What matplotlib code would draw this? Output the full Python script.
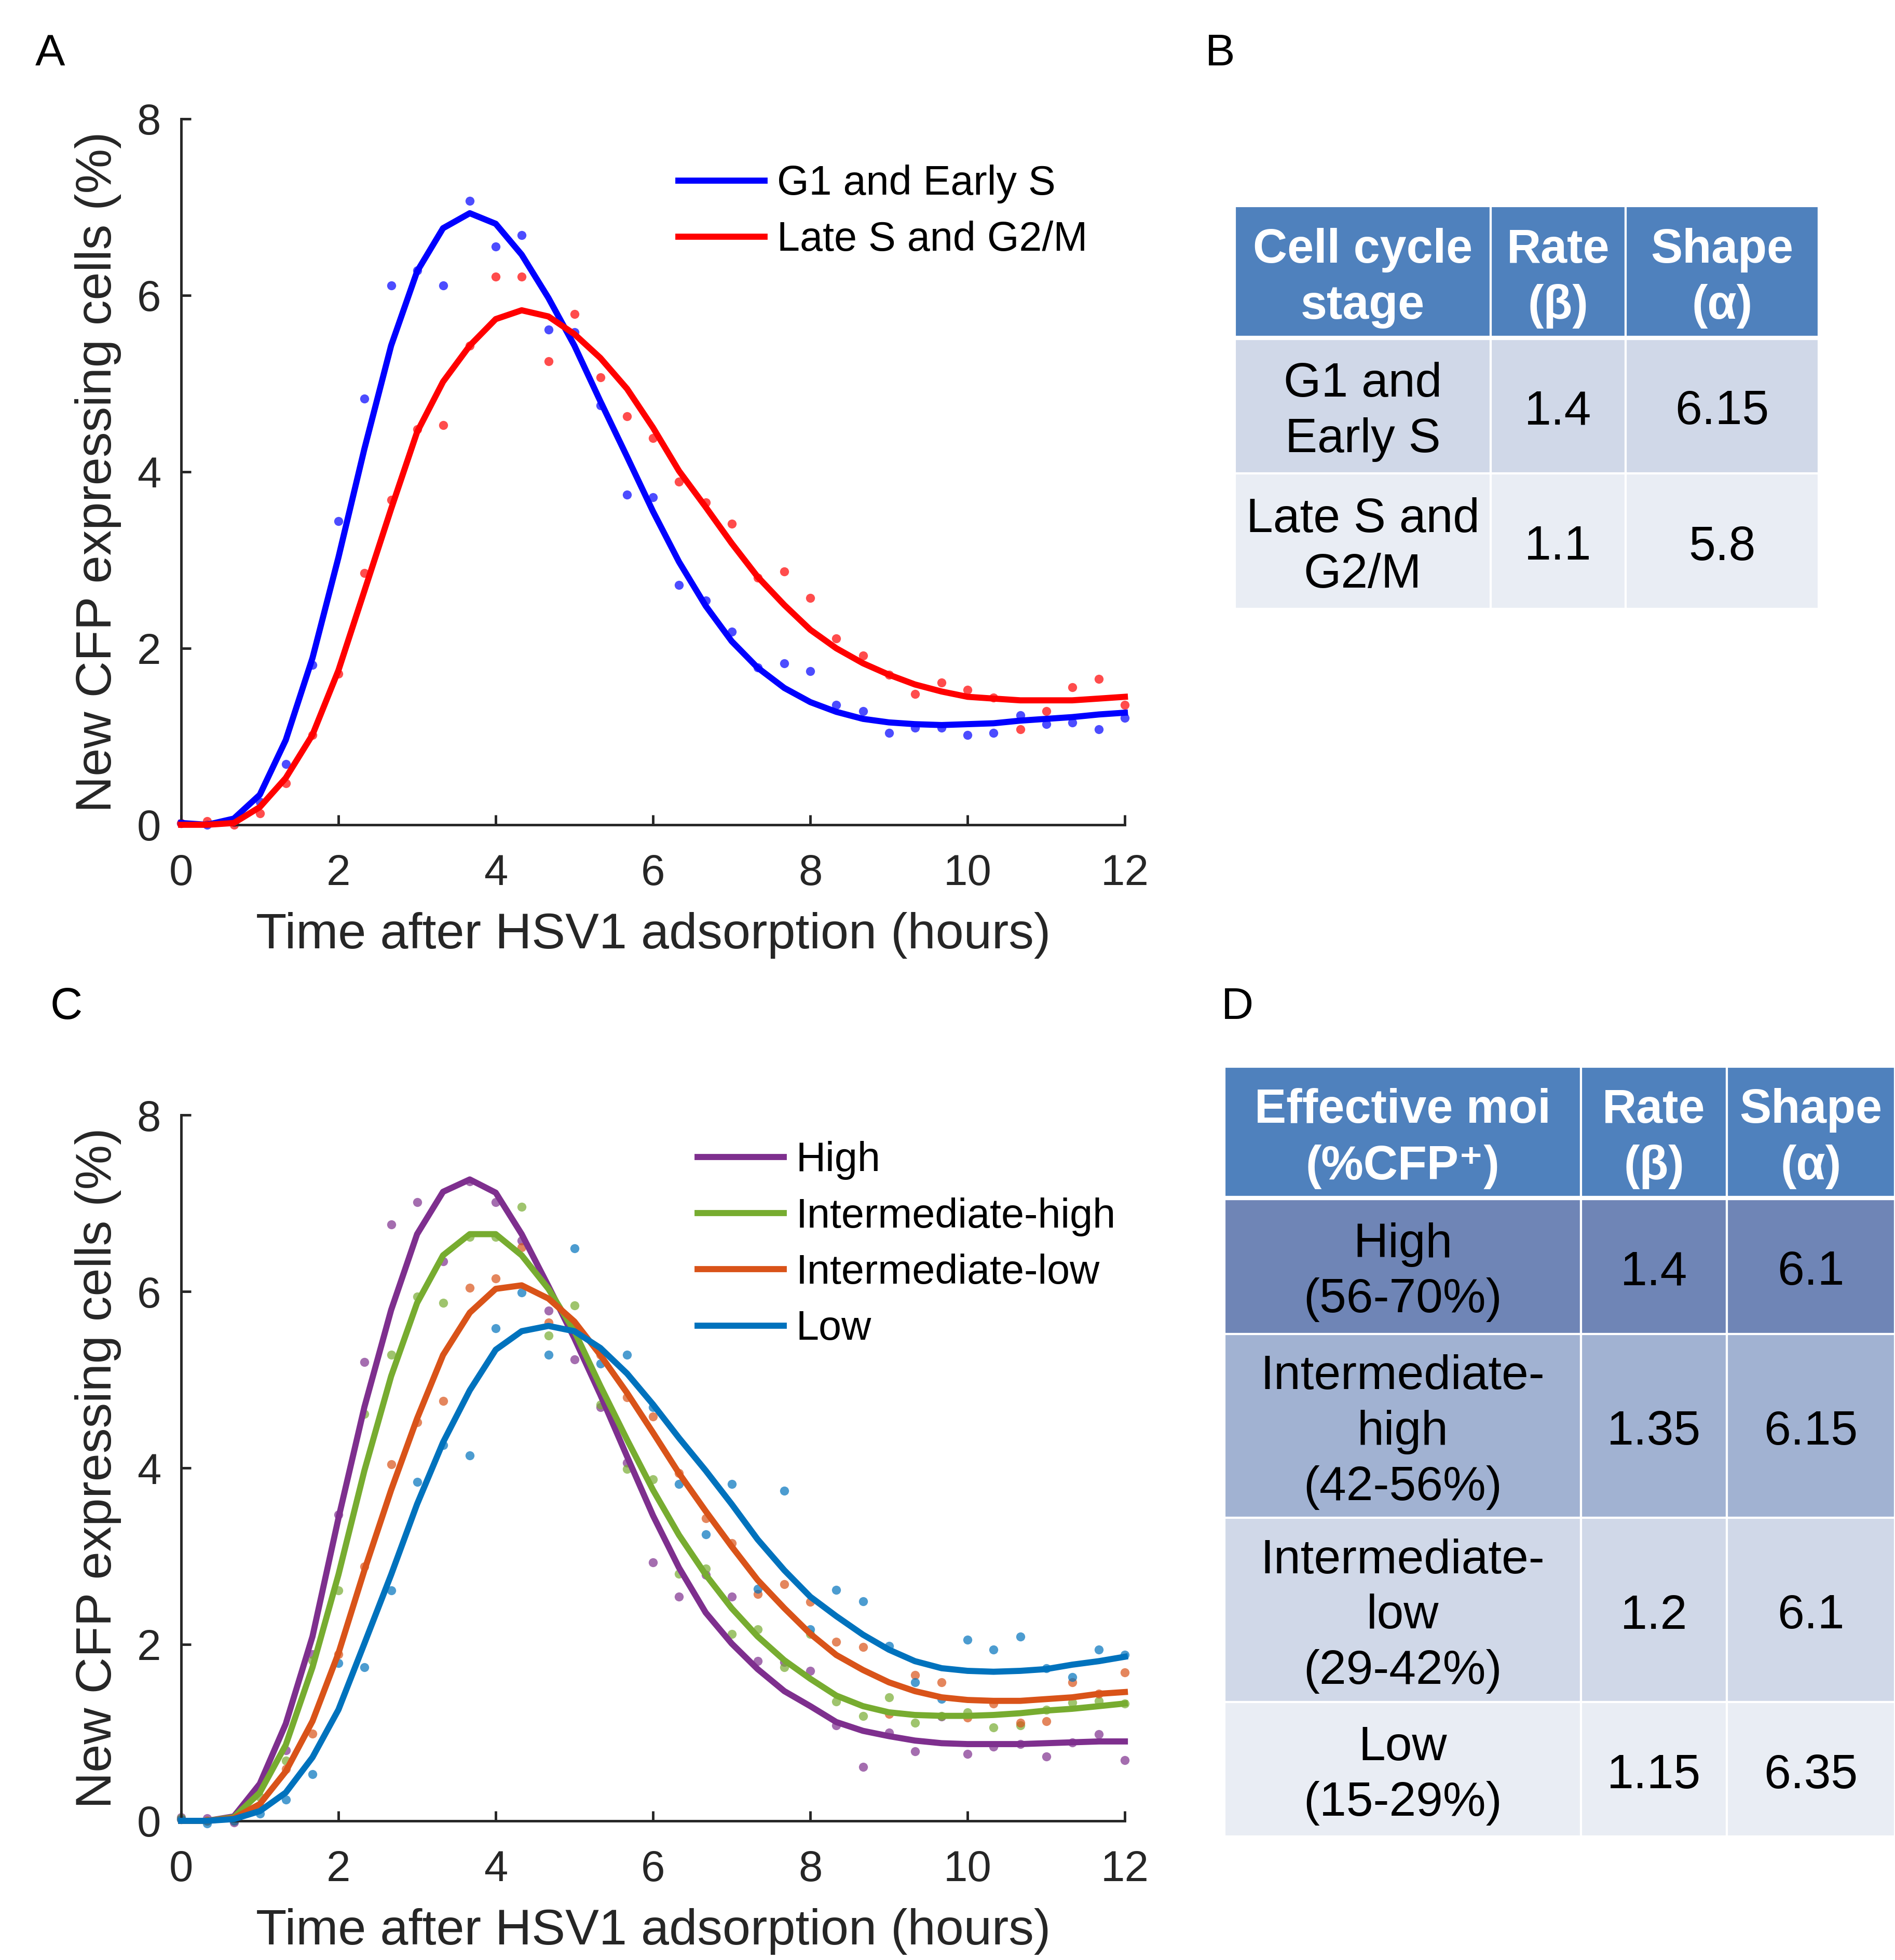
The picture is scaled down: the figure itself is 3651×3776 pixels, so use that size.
"""
Cinetica de expressao de CFP apos adsorcao do HSV1
Paineis A/C: curvas ajustadas + pontos medidos; B/D: parametros da distribuicao gama
"""
import matplotlib
matplotlib.use("Agg")
import matplotlib.pyplot as plt
from matplotlib.patches import Rectangle

# ---------------- dados ----------------
horas = [0, 0.33, 0.67, 1, 1.33, 1.67, 2, 2.33, 2.67, 3, 3.33, 3.67, 4,
         4.33, 4.67, 5, 5.33, 5.67, 6, 6.33, 6.67, 7, 7.33, 7.67, 8,
         8.33, 8.67, 9, 9.33, 9.67, 10, 10.33, 10.67, 11, 11.33, 11.67, 12]

# painel A - pontos medidos
g1_pts = [0.02, 0.0, 0.03, 0.26, 0.69, 1.81, 3.44, 4.83, 6.11, 6.28, 6.11, 7.07, 6.55,
          6.68, 5.61, 5.58, 4.75, 3.74, 3.71, 2.72, 2.54, 2.19, 1.78, 1.83, 1.74,
          1.36, 1.29, 1.04, 1.10, 1.10, 1.02, 1.04, 1.24, 1.14, 1.16, 1.08, 1.21]
late_pts = [0.02, 0.04, 0.0, 0.13, 0.47, 1.02, 1.71, 2.85, 3.68, 4.48, 4.53, 5.43, 6.21,
            6.21, 5.25, 5.79, 5.07, 4.63, 4.38, 3.89, 3.65, 3.41, 2.80, 2.87, 2.57,
            2.11, 1.92, 1.70, 1.48, 1.61, 1.53, 1.44, 1.08, 1.29, 1.56, 1.65, 1.36]
# painel A - curvas ajustadas
g1_fit = [0.02, 0.0, 0.07, 0.34, 0.96, 1.89, 3.03, 4.26, 5.43, 6.27, 6.76, 6.93, 6.81,
          6.46, 5.97, 5.43, 4.80, 4.17, 3.55, 2.98, 2.48, 2.08, 1.78, 1.55, 1.39,
          1.28, 1.20, 1.16, 1.14, 1.13, 1.14, 1.15, 1.18, 1.20, 1.22, 1.25, 1.27]
late_fit = [0.0, 0.0, 0.02, 0.20, 0.53, 1.02, 1.75, 2.65, 3.58, 4.45, 5.02, 5.43, 5.73,
            5.83, 5.76, 5.56, 5.29, 4.94, 4.50, 4.01, 3.60, 3.19, 2.81, 2.49, 2.21,
            2.00, 1.83, 1.70, 1.59, 1.51, 1.45, 1.43, 1.41, 1.41, 1.41, 1.43, 1.45]

# painel C - pontos medidos
high_pts = [0.04, 0.03, -0.02, 0.39, 0.80, 1.89, 3.47, 5.20, 6.76, 7.01, 6.34, 7.25, 7.01,
            6.58, 5.78, 5.23, 4.69, 4.06, 2.93, 2.54, 2.79, 2.54, 1.81, 1.80, 1.70,
            1.08, 0.61, 1.00, 0.79, 1.18, 0.76, 0.84, 0.87, 0.73, 0.89, 0.98, 0.69]
ihigh_pts = [0.03, 0.0, 0.02, 0.27, 0.68, 1.82, 2.61, 4.61, 5.28, 5.94, 5.87, 6.62, 6.62,
             6.96, 5.50, 5.84, 4.72, 3.99, 3.87, 2.80, 2.86, 2.12, 2.17, 1.74, 2.12,
             1.35, 1.19, 1.40, 1.11, 1.19, 1.23, 1.06, 1.08, 1.26, 1.34, 1.36, 1.33]
ilow_pts = [0.02, 0.0, 0.0, 0.16, 0.59, 0.99, 1.89, 2.88, 4.04, 4.52, 4.76, 6.04, 6.15,
            6.50, 5.65, 5.58, 5.28, 4.80, 4.58, 3.94, 3.43, 3.15, 2.57, 2.68, 2.48,
            2.03, 1.97, 1.21, 1.65, 1.57, 1.17, 1.33, 1.11, 1.13, 1.57, 1.44, 1.68]
low_pts = [0.02, -0.03, 0.0, 0.08, 0.24, 0.53, 1.79, 1.74, 2.61, 3.84, 4.26, 4.14, 5.58,
           5.99, 5.28, 6.49, 5.18, 5.28, 4.69, 3.82, 3.25, 3.82, 2.63, 3.74, 2.17,
           2.62, 2.49, 1.98, 1.57, 1.38, 2.05, 1.94, 2.09, 1.73, 1.63, 1.94, 1.88]
# painel C - curvas ajustadas
high_fit = [0.0, 0.0, 0.05, 0.42, 1.10, 2.09, 3.43, 4.69, 5.79, 6.65, 7.13, 7.27, 7.12,
            6.65, 6.06, 5.47, 4.83, 4.13, 3.46, 2.87, 2.36, 2.01, 1.72, 1.47, 1.30,
            1.12, 1.02, 0.96, 0.91, 0.88, 0.87, 0.87, 0.87, 0.88, 0.89, 0.90, 0.90]
ihigh_fit = [0.0, 0.0, 0.04, 0.32, 0.86, 1.74, 2.79, 3.97, 5.04, 5.87, 6.41, 6.65, 6.65,
             6.41, 6.03, 5.55, 4.93, 4.32, 3.75, 3.24, 2.79, 2.41, 2.09, 1.82, 1.61,
             1.42, 1.30, 1.23, 1.20, 1.19, 1.19, 1.20, 1.22, 1.25, 1.27, 1.30, 1.33]
ilow_fit = [0.0, 0.0, 0.03, 0.19, 0.56, 1.13, 1.90, 2.84, 3.75, 4.56, 5.28, 5.76, 6.03,
            6.07, 5.92, 5.66, 5.28, 4.85, 4.40, 3.94, 3.51, 3.11, 2.73, 2.41, 2.12,
            1.88, 1.71, 1.57, 1.47, 1.40, 1.37, 1.36, 1.36, 1.38, 1.40, 1.44, 1.46]
low_fit = [0.0, 0.0, 0.02, 0.11, 0.32, 0.72, 1.26, 2.01, 2.79, 3.59, 4.29, 4.88, 5.34,
           5.55, 5.61, 5.55, 5.36, 5.07, 4.72, 4.34, 3.97, 3.59, 3.19, 2.84, 2.54,
           2.32, 2.11, 1.94, 1.81, 1.73, 1.70, 1.69, 1.70, 1.72, 1.77, 1.81, 1.86]

nomes_a = ["G1 and Early S", "Late S and G2/M"]
nomes_c = ["High", "Intermediate-high", "Intermediate-low", "Low"]

# tabelas B e D
tab_b_header = ["Cell cycle\nstage", "Rate\n(\u03b2)", "Shape\n(\u03b1)"]
tab_b_rows = [["G1 and\nEarly S", "1.4", "6.15"],
              ["Late S and\nG2/M", "1.1", "5.8"]]
tab_d_header = ["Effective moi\n(%CFP\u207a)", "Rate\n(\u03b2)", "Shape\n(\u03b1)"]
tab_d_rows = [["High\n(56-70%)", "1.4", "6.1"],
              ["Intermediate-\nhigh\n(42-56%)", "1.35", "6.15"],
              ["Intermediate-\nlow\n(29-42%)", "1.2", "6.1"],
              ["Low\n(15-29%)", "1.15", "6.35"]]

# ---------------- estilo ----------------
W, H = 3651, 3776
fonte = ["Liberation Sans", "DejaVu Sans"]
plt.rcParams["font.family"] = fonte
cinza = "#262626"

fig = plt.figure(figsize=(W / 100, H / 100), dpi=100)


def painel(ret, series, legendas, leg_x, leg_y):
    ax = fig.add_axes(ret)
    for pts, fit, cor in series:
        ax.plot(horas, pts, "o", color=cor, alpha=0.7, ms=12.5, mec="none",
                clip_on=False, zorder=2)
        ax.plot(horas, fit, "-", color=cor, lw=8.5, clip_on=False, zorder=3)
    ax.set_xlim(0, 12)
    ax.set_ylim(0, 8)
    ax.set_xticks([0, 2, 4, 6, 8, 10, 12])
    ax.set_yticks([0, 2, 4, 6, 8])
    for s in ["top", "right"]:
        ax.spines[s].set_visible(False)
    for s in ["left", "bottom"]:
        ax.spines[s].set_linewidth(3.5)
        ax.spines[s].set_color(cinza)
    ax.tick_params(direction="in", length=14, width=3.5, colors=cinza, labelsize=60)
    ax.tick_params(axis="x", pad=40)
    ax.tick_params(axis="y", pad=28)
    ax.set_xlabel("Time after HSV1 adsorption (hours)", fontsize=70, color=cinza, va="center")
    ax.set_ylabel("New CFP expressing cells (%)", fontsize=70, color=cinza, va="center")
    ax.xaxis.set_label_coords(0.5, -0.157)
    ax.yaxis.set_label_coords(-0.088, 0.5)
    linhas = [l for l in ax.get_lines() if l.get_linestyle() == "-"]
    ax.legend(linhas, legendas, loc="upper left", bbox_to_anchor=(leg_x, leg_y),
              frameon=False, fontsize=57, handlelength=2.1, handletextpad=0.3,
              labelspacing=0.42, borderpad=0, borderaxespad=0)
    return ax


painel([0.0956, 0.5792, 0.498, 0.3602],
       [(g1_pts, g1_fit, "#0000FF"), (late_pts, late_fit, "#FF0000")],
       nomes_a, 0.527, 0.935)
painel([0.0956, 0.0710, 0.498, 0.3601],
       [(high_pts, high_fit, "#7E2F8E"), (ihigh_pts, ihigh_fit, "#77AC30"),
        (ilow_pts, ilow_fit, "#D95319"), (low_pts, low_fit, "#0072BD")],
       nomes_c, 0.547, 0.963)

# letras dos paineis
for letra, x, y in [("A", 0.0264, 0.9725), ("B", 0.6437, 0.9725),
                    ("C", 0.035, 0.486), ("D", 0.653, 0.486)]:
    fig.text(x, y, letra, fontsize=62, ha="center", va="center")

# ---------------- tabelas ----------------
ov = fig.add_axes([0, 0, 1, 1], zorder=-1)
ov.set_xlim(0, W)
ov.set_ylim(H, 0)
ov.axis("off")


def tabela(cols, linhas_y, header, rows, cores):
    conteudo = [header] + rows
    for i, linha in enumerate(conteudo):
        y0, y1 = linhas_y[i], linhas_y[i + 1]
        yc = (y0 + y1) / 2 + 12
        for j, txt in enumerate(linha):
            x0, x1 = cols[j], cols[j + 1]
            ov.add_patch(Rectangle((x0, y0), x1 - x0, y1 - y0, facecolor=cores[i],
                                   edgecolor="white", lw=3))
            if i == 0:
                ov.text((x0 + x1) / 2, yc, txt, color="white", fontsize=66,
                        fontweight="bold", ha="center", va="center", linespacing=1.33)
            else:
                ov.text((x0 + x1) / 2, yc, txt, color="black", fontsize=67,
                        ha="center", va="center", linespacing=1.31)
    # linha branca mais grossa sob o cabecalho
    ov.plot([cols[0], cols[-1]], [linhas_y[1], linhas_y[1]], color="white", lw=6)


tabela([2379, 2872, 3132, 3504], [397, 651, 912, 1173],
       tab_b_header, tab_b_rows, ["#4F81BD", "#D0D8E8", "#E9EDF4"])
tabela([2359, 3046, 3327, 3651], [2055, 2308, 2570, 2924, 3279, 3538],
       tab_d_header, tab_d_rows, ["#4F81BD", "#6F85B6", "#A1B2D2", "#D0D8E8", "#E9EDF4"])

fig.savefig("out.png", dpi=100)
plt.close()
